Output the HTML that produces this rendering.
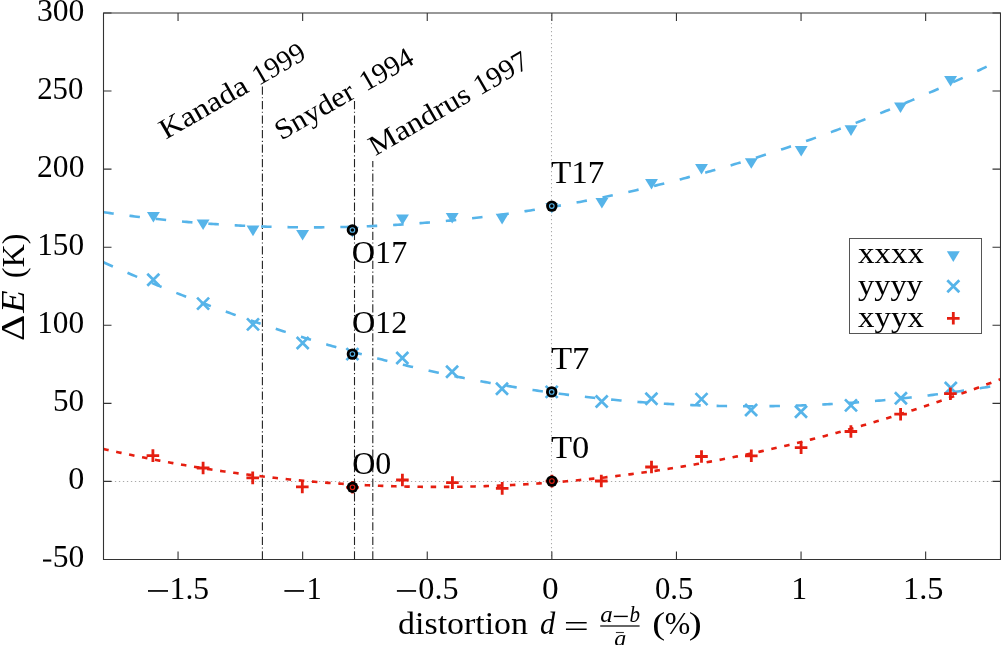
<!DOCTYPE html>
<html><head><meta charset="utf-8"><style>html,body{margin:0;padding:0;background:#fff;overflow:hidden}svg{display:block;will-change:transform}text{font-family:"Liberation Serif",serif;fill:#000}</style></head>
<body><svg width="1001" height="645" viewBox="0 0 1001 645"><rect x="0" y="0" width="1001" height="645" fill="#fff"/>
<line x1="103.5" y1="481.4" x2="1000.5" y2="481.4" stroke="#aaa" stroke-width="1.05" stroke-dasharray="1.3 2.7" stroke-dashoffset="0.6"/>
<line x1="551.5" y1="13.0" x2="551.5" y2="559.5" stroke="#aaa" stroke-width="1.05" stroke-dasharray="1.3 2.7" stroke-dashoffset="2"/>
<path d="M103.5 13.0 H1000.5 V559.5 H103.5 Z" fill="none" stroke="#333" stroke-width="1.1"/>
<path d="M103.5 559.47h8M1000.5 559.47h-8M103.5 481.40h8M1000.5 481.40h-8M103.5 403.33h8M1000.5 403.33h-8M103.5 325.26h8M1000.5 325.26h-8M103.5 247.19h8M1000.5 247.19h-8M103.5 169.12h8M1000.5 169.12h-8M103.5 91.05h8M1000.5 91.05h-8M103.5 12.98h8M1000.5 12.98h-8M178.05 559.5v-8M178.05 13.0v8M302.65 559.5v-8M302.65 13.0v8M427.25 559.5v-8M427.25 13.0v8M551.85 559.5v-8M551.85 13.0v8M676.45 559.5v-8M676.45 13.0v8M801.05 559.5v-8M801.05 13.0v8M925.65 559.5v-8M925.65 13.0v8" stroke="#333" stroke-width="1.1" fill="none"/>
<text x="36.99" y="20.88" font-size="32" textLength="47.42" lengthAdjust="spacingAndGlyphs" >300</text>
<text x="37.15" y="98.95" font-size="32" textLength="46.23" lengthAdjust="spacingAndGlyphs" >250</text>
<text x="37.11" y="177.02" font-size="32" textLength="47.29" lengthAdjust="spacingAndGlyphs" >200</text>
<text x="37.15" y="255.09" font-size="32" textLength="46.94" lengthAdjust="spacingAndGlyphs" >150</text>
<text x="37.15" y="333.16" font-size="32" textLength="46.94" lengthAdjust="spacingAndGlyphs" >100</text>
<text x="52.99" y="411.23" font-size="32" textLength="31.09" lengthAdjust="spacingAndGlyphs" >50</text>
<text x="68.28" y="489.30" font-size="32" textLength="16.04" lengthAdjust="spacingAndGlyphs" >0</text>
<text x="52.77" y="567.37" font-size="32" textLength="31.53" lengthAdjust="spacingAndGlyphs" >50</text>
<rect x="43" y="559.5" width="8.3" height="2.1" fill="#000"/>
<text x="169.62" y="599.20" font-size="32" textLength="39.51" lengthAdjust="spacingAndGlyphs" >1.5</text>
<text x="306.40" y="599.20" font-size="32" textLength="15.34" lengthAdjust="spacingAndGlyphs" >1</text>
<text x="418.37" y="599.20" font-size="32" textLength="40.29" lengthAdjust="spacingAndGlyphs" >0.5</text>
<text x="541.93" y="599.20" font-size="32" textLength="16.63" lengthAdjust="spacingAndGlyphs" >0</text>
<text x="655.03" y="599.20" font-size="32" textLength="38.37" lengthAdjust="spacingAndGlyphs" >0.5</text>
<text x="791.20" y="599.20" font-size="32" textLength="15.91" lengthAdjust="spacingAndGlyphs" >1</text>
<text x="903.06" y="599.20" font-size="32" textLength="40.40" lengthAdjust="spacingAndGlyphs" >1.5</text>
<rect x="148" y="590.1" width="20.0" height="1.7" fill="#000"/>
<rect x="284.4" y="590.1" width="19.6" height="1.7" fill="#000"/>
<rect x="396.9" y="590.1" width="19.2" height="1.7" fill="#000"/>
<line x1="262.4" y1="559.5" x2="262.4" y2="86.2" stroke="#222" stroke-width="1.1" stroke-dasharray="8.3 2.6 1.2 2.425"/>
<line x1="354.5" y1="559.5" x2="354.5" y2="100.8" stroke="#222" stroke-width="1.1" stroke-dasharray="8.3 2.6 1.2 2.425"/>
<line x1="372.8" y1="559.5" x2="372.8" y2="161" stroke="#222" stroke-width="1.1" stroke-dasharray="8.3 2.6 1.2 2.425"/>
<text transform="translate(166.5,139.4) rotate(-30)" x="-0.92" y="0.00" font-size="28.5" textLength="97.56" lengthAdjust="spacingAndGlyphs" >Kanada</text>
<text transform="translate(166.5,139.4) rotate(-30)" x="106.62" y="0.00" font-size="28.5" textLength="56.54" lengthAdjust="spacingAndGlyphs" >1999</text>
<text transform="translate(283,139.75) rotate(-30)" x="-2.06" y="0.00" font-size="28.5" textLength="87.33" lengthAdjust="spacingAndGlyphs" >Snyder</text>
<text transform="translate(283,139.75) rotate(-30)" x="95.88" y="0.00" font-size="28.5" textLength="57.37" lengthAdjust="spacingAndGlyphs" >1994</text>
<text transform="translate(376.1,155.7) rotate(-30)" x="-0.91" y="0.00" font-size="28.5" textLength="112.56" lengthAdjust="spacingAndGlyphs" >Mandrus</text>
<text transform="translate(376.1,155.7) rotate(-30)" x="120.03" y="0.00" font-size="28.5" textLength="58.41" lengthAdjust="spacingAndGlyphs" >1997</text>
<clipPath id="cp"><rect x="104" y="13.5" width="896" height="545.5"/></clipPath>
<g clip-path="url(#cp)">
<path d="M103.29 212.16 L105.54 212.48 L107.79 212.81 L110.04 213.13 L112.28 213.44 L114.53 213.76 L116.78 214.07 L119.03 214.37 L121.28 214.68 L123.53 214.97 L125.77 215.27 L128.02 215.56 L130.27 215.85 L132.52 216.13 L134.77 216.42 L137.02 216.69 L139.26 216.97 L141.51 217.24 L143.76 217.50 L146.01 217.77 L148.26 218.03 L150.51 218.28 L152.76 218.54 L155.00 218.78 L157.25 219.03 L159.50 219.27 L161.75 219.51 L164.00 219.74 L166.25 219.98 L168.49 220.20 L170.74 220.43 L172.99 220.65 L175.24 220.86 L177.49 221.08 L179.74 221.29 L181.98 221.49 L184.23 221.70 L186.48 221.90 L188.73 222.09 L190.98 222.28 L193.23 222.47 L195.48 222.66 L197.72 222.84 L199.97 223.02 L202.22 223.19 L204.47 223.36 L206.72 223.53 L208.97 223.69 L211.21 223.85 L213.46 224.01 L215.71 224.16 L217.96 224.31 L220.21 224.46 L222.46 224.60 L224.70 224.74 L226.95 224.87 L229.20 225.00 L231.45 225.13 L233.70 225.26 L235.95 225.38 L238.20 225.49 L240.44 225.61 L242.69 225.72 L244.94 225.82 L247.19 225.93 L249.44 226.03 L251.69 226.12 L253.93 226.21 L256.18 226.30 L258.43 226.39 L260.68 226.47 L262.93 226.55 L265.18 226.62 L267.42 226.69 L269.67 226.76 L271.92 226.82 L274.17 226.88 L276.42 226.94 L278.67 226.99 L280.92 227.04 L283.16 227.09 L285.41 227.13 L287.66 227.17 L289.91 227.21 L292.16 227.24 L294.41 227.27 L296.65 227.29 L298.90 227.31 L301.15 227.33 L303.40 227.34 L305.65 227.35 L307.90 227.36 L310.14 227.36 L312.39 227.36 L314.64 227.36 L316.89 227.35 L319.14 227.34 L321.39 227.33 L323.64 227.31 L325.88 227.29 L328.13 227.26 L330.38 227.23 L332.63 227.20 L334.88 227.17 L337.13 227.13 L339.37 227.08 L341.62 227.04 L343.87 226.99 L346.12 226.93 L348.37 226.88 L350.62 226.82 L352.86 226.75 L355.11 226.68 L357.36 226.61 L359.61 226.54 L361.86 226.46 L364.11 226.38 L366.36 226.29 L368.60 226.20 L370.85 226.11 L373.10 226.01 L375.35 225.91 L377.60 225.81 L379.85 225.70 L382.09 225.59 L384.34 225.48 L386.59 225.36 L388.84 225.24 L391.09 225.11 L393.34 224.98 L395.58 224.85 L397.83 224.72 L400.08 224.58 L402.33 224.43 L404.58 224.29 L406.83 224.14 L409.08 223.98 L411.32 223.83 L413.57 223.67 L415.82 223.50 L418.07 223.34 L420.32 223.16 L422.57 222.99 L424.81 222.81 L427.06 222.63 L429.31 222.44 L431.56 222.26 L433.81 222.06 L436.06 221.87 L438.30 221.67 L440.55 221.46 L442.80 221.26 L445.05 221.05 L447.30 220.83 L449.55 220.62 L451.80 220.39 L454.04 220.17 L456.29 219.94 L458.54 219.71 L460.79 219.47 L463.04 219.24 L465.29 218.99 L467.53 218.75 L469.78 218.50 L472.03 218.24 L474.28 217.99 L476.53 217.73 L478.78 217.46 L481.02 217.20 L483.27 216.93 L485.52 216.65 L487.77 216.37 L490.02 216.09 L492.27 215.81 L494.52 215.52 L496.76 215.23 L499.01 214.93 L501.26 214.63 L503.51 214.33 L505.76 214.02 L508.01 213.71 L510.25 213.40 L512.50 213.08 L514.75 212.76 L517.00 212.44 L519.25 212.11 L521.50 211.78 L523.74 211.44 L525.99 211.10 L528.24 210.76 L530.49 210.42 L532.74 210.07 L534.99 209.71 L537.24 209.36 L539.48 209.00 L541.73 208.63 L543.98 208.27 L546.23 207.90 L548.48 207.52 L550.73 207.14 L552.97 206.76 L555.22 206.38 L557.47 205.99 L559.72 205.60 L561.97 205.20 L564.22 204.80 L566.46 204.40 L568.71 203.99 L570.96 203.59 L573.21 203.17 L575.46 202.75 L577.71 202.33 L579.96 201.91 L582.20 201.48 L584.45 201.05 L586.70 200.62 L588.95 200.18 L591.20 199.74 L593.45 199.29 L595.69 198.84 L597.94 198.39 L600.19 197.93 L602.44 197.48 L604.69 197.01 L606.94 196.55 L609.18 196.07 L611.43 195.60 L613.68 195.12 L615.93 194.64 L618.18 194.16 L620.43 193.67 L622.68 193.18 L624.92 192.68 L627.17 192.18 L629.42 191.68 L631.67 191.18 L633.92 190.67 L636.17 190.15 L638.41 189.64 L640.66 189.12 L642.91 188.59 L645.16 188.07 L647.41 187.54 L649.66 187.00 L651.90 186.46 L654.15 185.92 L656.40 185.38 L658.65 184.83 L660.90 184.28 L663.15 183.72 L665.40 183.16 L667.64 182.60 L669.89 182.03 L672.14 181.46 L674.39 180.89 L676.64 180.31 L678.89 179.73 L681.13 179.15 L683.38 178.56 L685.63 177.97 L687.88 177.37 L690.13 176.77 L692.38 176.17 L694.62 175.57 L696.87 174.96 L699.12 174.34 L701.37 173.73 L703.62 173.11 L705.87 172.49 L708.12 171.86 L710.36 171.23 L712.61 170.59 L714.86 169.96 L717.11 169.32 L719.36 168.67 L721.61 168.02 L723.85 167.37 L726.10 166.72 L728.35 166.06 L730.60 165.39 L732.85 164.73 L735.10 164.06 L737.34 163.38 L739.59 162.71 L741.84 162.03 L744.09 161.34 L746.34 160.66 L748.59 159.97 L750.84 159.27 L753.08 158.57 L755.33 157.87 L757.58 157.17 L759.83 156.46 L762.08 155.74 L764.33 155.03 L766.57 154.31 L768.82 153.59 L771.07 152.86 L773.32 152.13 L775.57 151.40 L777.82 150.66 L780.06 149.92 L782.31 149.17 L784.56 148.42 L786.81 147.67 L789.06 146.92 L791.31 146.16 L793.56 145.40 L795.80 144.63 L798.05 143.86 L800.30 143.09 L802.55 142.31 L804.80 141.53 L807.05 140.75 L809.29 139.96 L811.54 139.17 L813.79 138.38 L816.04 137.58 L818.29 136.78 L820.54 135.97 L822.78 135.16 L825.03 134.35 L827.28 133.54 L829.53 132.72 L831.78 131.89 L834.03 131.07 L836.28 130.24 L838.52 129.40 L840.77 128.57 L843.02 127.73 L845.27 126.88 L847.52 126.04 L849.77 125.18 L852.01 124.33 L854.26 123.47 L856.51 122.61 L858.76 121.74 L861.01 120.87 L863.26 120.00 L865.50 119.13 L867.75 118.25 L870.00 117.36 L872.25 116.48 L874.50 115.59 L876.75 114.69 L879.00 113.79 L881.24 112.89 L883.49 111.99 L885.74 111.08 L887.99 110.17 L890.24 109.25 L892.49 108.33 L894.73 107.41 L896.98 106.49 L899.23 105.56 L901.48 104.62 L903.73 103.69 L905.98 102.75 L908.22 101.80 L910.47 100.86 L912.72 99.90 L914.97 98.95 L917.22 97.99 L919.47 97.03 L921.72 96.06 L923.96 95.10 L926.21 94.12 L928.46 93.15 L930.71 92.17 L932.96 91.19 L935.21 90.20 L937.45 89.21 L939.70 88.22 L941.95 87.22 L944.20 86.22 L946.45 85.21 L948.70 84.20 L950.94 83.19 L953.19 82.18 L955.44 81.16 L957.69 80.14 L959.94 79.11 L962.19 78.08 L964.44 77.05 L966.68 76.01 L968.93 74.97 L971.18 73.93 L973.43 72.88 L975.68 71.83 L977.93 70.78 L980.17 69.72 L982.42 68.66 L984.67 67.59 L986.92 66.53 L989.17 65.45 L991.42 64.38 L993.66 63.30 L995.91 62.22 L998.16 61.13 L1000.41 60.04" fill="none" stroke="#56B4E9" stroke-width="2.6" stroke-dasharray="10.5 15.92"/>
<path d="M103.29 262.23 L105.54 263.23 L107.79 264.23 L110.04 265.22 L112.28 266.21 L114.53 267.19 L116.78 268.17 L119.03 269.15 L121.28 270.13 L123.53 271.10 L125.77 272.06 L128.02 273.03 L130.27 273.99 L132.52 274.95 L134.77 275.90 L137.02 276.85 L139.26 277.80 L141.51 278.74 L143.76 279.68 L146.01 280.62 L148.26 281.55 L150.51 282.48 L152.76 283.40 L155.00 284.32 L157.25 285.24 L159.50 286.16 L161.75 287.07 L164.00 287.98 L166.25 288.88 L168.49 289.79 L170.74 290.68 L172.99 291.58 L175.24 292.47 L177.49 293.36 L179.74 294.24 L181.98 295.12 L184.23 296.00 L186.48 296.87 L188.73 297.74 L190.98 298.61 L193.23 299.47 L195.48 300.33 L197.72 301.19 L199.97 302.04 L202.22 302.89 L204.47 303.74 L206.72 304.58 L208.97 305.42 L211.21 306.25 L213.46 307.08 L215.71 307.91 L217.96 308.74 L220.21 309.56 L222.46 310.38 L224.70 311.19 L226.95 312.00 L229.20 312.81 L231.45 313.61 L233.70 314.41 L235.95 315.21 L238.20 316.01 L240.44 316.80 L242.69 317.58 L244.94 318.37 L247.19 319.15 L249.44 319.92 L251.69 320.69 L253.93 321.46 L256.18 322.23 L258.43 322.99 L260.68 323.75 L262.93 324.51 L265.18 325.26 L267.42 326.01 L269.67 326.75 L271.92 327.49 L274.17 328.23 L276.42 328.97 L278.67 329.70 L280.92 330.43 L283.16 331.15 L285.41 331.87 L287.66 332.59 L289.91 333.30 L292.16 334.01 L294.41 334.72 L296.65 335.42 L298.90 336.12 L301.15 336.82 L303.40 337.51 L305.65 338.20 L307.90 338.89 L310.14 339.57 L312.39 340.25 L314.64 340.92 L316.89 341.60 L319.14 342.27 L321.39 342.93 L323.64 343.59 L325.88 344.25 L328.13 344.91 L330.38 345.56 L332.63 346.20 L334.88 346.85 L337.13 347.49 L339.37 348.13 L341.62 348.76 L343.87 349.39 L346.12 350.02 L348.37 350.64 L350.62 351.26 L352.86 351.88 L355.11 352.49 L357.36 353.10 L359.61 353.71 L361.86 354.31 L364.11 354.91 L366.36 355.50 L368.60 356.10 L370.85 356.68 L373.10 357.27 L375.35 357.85 L377.60 358.43 L379.85 359.01 L382.09 359.58 L384.34 360.14 L386.59 360.71 L388.84 361.27 L391.09 361.83 L393.34 362.38 L395.58 362.93 L397.83 363.48 L400.08 364.02 L402.33 364.56 L404.58 365.10 L406.83 365.63 L409.08 366.16 L411.32 366.69 L413.57 367.21 L415.82 367.73 L418.07 368.25 L420.32 368.76 L422.57 369.27 L424.81 369.77 L427.06 370.27 L429.31 370.77 L431.56 371.27 L433.81 371.76 L436.06 372.25 L438.30 372.73 L440.55 373.21 L442.80 373.69 L445.05 374.16 L447.30 374.63 L449.55 375.10 L451.80 375.57 L454.04 376.03 L456.29 376.48 L458.54 376.94 L460.79 377.39 L463.04 377.83 L465.29 378.27 L467.53 378.71 L469.78 379.15 L472.03 379.58 L474.28 380.01 L476.53 380.44 L478.78 380.86 L481.02 381.28 L483.27 381.69 L485.52 382.10 L487.77 382.51 L490.02 382.92 L492.27 383.32 L494.52 383.71 L496.76 384.11 L499.01 384.50 L501.26 384.89 L503.51 385.27 L505.76 385.65 L508.01 386.03 L510.25 386.40 L512.50 386.77 L514.75 387.14 L517.00 387.50 L519.25 387.86 L521.50 388.22 L523.74 388.57 L525.99 388.92 L528.24 389.26 L530.49 389.60 L532.74 389.94 L534.99 390.28 L537.24 390.61 L539.48 390.94 L541.73 391.26 L543.98 391.58 L546.23 391.90 L548.48 392.22 L550.73 392.53 L552.97 392.83 L555.22 393.14 L557.47 393.44 L559.72 393.74 L561.97 394.03 L564.22 394.32 L566.46 394.61 L568.71 394.89 L570.96 395.17 L573.21 395.44 L575.46 395.72 L577.71 395.99 L579.96 396.25 L582.20 396.51 L584.45 396.77 L586.70 397.03 L588.95 397.28 L591.20 397.53 L593.45 397.77 L595.69 398.01 L597.94 398.25 L600.19 398.49 L602.44 398.72 L604.69 398.94 L606.94 399.17 L609.18 399.39 L611.43 399.61 L613.68 399.82 L615.93 400.03 L618.18 400.24 L620.43 400.44 L622.68 400.64 L624.92 400.83 L627.17 401.03 L629.42 401.22 L631.67 401.40 L633.92 401.58 L636.17 401.76 L638.41 401.94 L640.66 402.11 L642.91 402.28 L645.16 402.44 L647.41 402.61 L649.66 402.76 L651.90 402.92 L654.15 403.07 L656.40 403.22 L658.65 403.36 L660.90 403.50 L663.15 403.64 L665.40 403.77 L667.64 403.90 L669.89 404.03 L672.14 404.15 L674.39 404.27 L676.64 404.39 L678.89 404.50 L681.13 404.61 L683.38 404.72 L685.63 404.82 L687.88 404.92 L690.13 405.01 L692.38 405.10 L694.62 405.19 L696.87 405.28 L699.12 405.36 L701.37 405.44 L703.62 405.51 L705.87 405.58 L708.12 405.65 L710.36 405.71 L712.61 405.77 L714.86 405.83 L717.11 405.89 L719.36 405.94 L721.61 405.98 L723.85 406.03 L726.10 406.07 L728.35 406.10 L730.60 406.13 L732.85 406.16 L735.10 406.19 L737.34 406.21 L739.59 406.23 L741.84 406.25 L744.09 406.26 L746.34 406.27 L748.59 406.27 L750.84 406.27 L753.08 406.27 L755.33 406.27 L757.58 406.26 L759.83 406.25 L762.08 406.23 L764.33 406.21 L766.57 406.19 L768.82 406.16 L771.07 406.13 L773.32 406.10 L775.57 406.06 L777.82 406.02 L780.06 405.98 L782.31 405.93 L784.56 405.88 L786.81 405.83 L789.06 405.77 L791.31 405.71 L793.56 405.64 L795.80 405.58 L798.05 405.51 L800.30 405.43 L802.55 405.35 L804.80 405.27 L807.05 405.19 L809.29 405.10 L811.54 405.00 L813.79 404.91 L816.04 404.81 L818.29 404.71 L820.54 404.60 L822.78 404.49 L825.03 404.38 L827.28 404.26 L829.53 404.14 L831.78 404.02 L834.03 403.89 L836.28 403.76 L838.52 403.63 L840.77 403.49 L843.02 403.35 L845.27 403.20 L847.52 403.06 L849.77 402.91 L852.01 402.75 L854.26 402.59 L856.51 402.43 L858.76 402.27 L861.01 402.10 L863.26 401.93 L865.50 401.75 L867.75 401.57 L870.00 401.39 L872.25 401.20 L874.50 401.01 L876.75 400.82 L879.00 400.62 L881.24 400.42 L883.49 400.22 L885.74 400.01 L887.99 399.80 L890.24 399.59 L892.49 399.37 L894.73 399.15 L896.98 398.93 L899.23 398.70 L901.48 398.47 L903.73 398.23 L905.98 398.00 L908.22 397.75 L910.47 397.51 L912.72 397.26 L914.97 397.01 L917.22 396.75 L919.47 396.49 L921.72 396.23 L923.96 395.97 L926.21 395.70 L928.46 395.42 L930.71 395.15 L932.96 394.87 L935.21 394.58 L937.45 394.30 L939.70 394.01 L941.95 393.71 L944.20 393.42 L946.45 393.12 L948.70 392.81 L950.94 392.50 L953.19 392.19 L955.44 391.88 L957.69 391.56 L959.94 391.24 L962.19 390.91 L964.44 390.58 L966.68 390.25 L968.93 389.92 L971.18 389.58 L973.43 389.24 L975.68 388.89 L977.93 388.54 L980.17 388.19 L982.42 387.83 L984.67 387.47 L986.92 387.11 L989.17 386.74 L991.42 386.37 L993.66 386.00 L995.91 385.62 L998.16 385.24 L1000.41 384.86" fill="none" stroke="#56B4E9" stroke-width="2.6" stroke-dasharray="10.5 15.92"/>
<path d="M103.29 448.91 L105.54 449.42 L107.79 449.93 L110.04 450.43 L112.28 450.93 L114.53 451.42 L116.78 451.92 L119.03 452.41 L121.28 452.89 L123.53 453.37 L125.77 453.85 L128.02 454.33 L130.27 454.80 L132.52 455.27 L134.77 455.73 L137.02 456.19 L139.26 456.65 L141.51 457.10 L143.76 457.55 L146.01 458.00 L148.26 458.45 L150.51 458.89 L152.76 459.32 L155.00 459.76 L157.25 460.19 L159.50 460.61 L161.75 461.04 L164.00 461.46 L166.25 461.87 L168.49 462.29 L170.74 462.70 L172.99 463.10 L175.24 463.51 L177.49 463.91 L179.74 464.30 L181.98 464.69 L184.23 465.08 L186.48 465.47 L188.73 465.85 L190.98 466.23 L193.23 466.61 L195.48 466.98 L197.72 467.35 L199.97 467.71 L202.22 468.07 L204.47 468.43 L206.72 468.79 L208.97 469.14 L211.21 469.48 L213.46 469.83 L215.71 470.17 L217.96 470.51 L220.21 470.84 L222.46 471.17 L224.70 471.50 L226.95 471.82 L229.20 472.14 L231.45 472.46 L233.70 472.77 L235.95 473.08 L238.20 473.39 L240.44 473.69 L242.69 473.99 L244.94 474.29 L247.19 474.58 L249.44 474.87 L251.69 475.16 L253.93 475.44 L256.18 475.72 L258.43 476.00 L260.68 476.27 L262.93 476.54 L265.18 476.80 L267.42 477.06 L269.67 477.32 L271.92 477.58 L274.17 477.83 L276.42 478.08 L278.67 478.32 L280.92 478.56 L283.16 478.80 L285.41 479.03 L287.66 479.27 L289.91 479.49 L292.16 479.72 L294.41 479.94 L296.65 480.16 L298.90 480.37 L301.15 480.58 L303.40 480.79 L305.65 480.99 L307.90 481.19 L310.14 481.39 L312.39 481.58 L314.64 481.77 L316.89 481.96 L319.14 482.14 L321.39 482.32 L323.64 482.49 L325.88 482.67 L328.13 482.84 L330.38 483.00 L332.63 483.16 L334.88 483.32 L337.13 483.48 L339.37 483.63 L341.62 483.78 L343.87 483.92 L346.12 484.06 L348.37 484.20 L350.62 484.34 L352.86 484.47 L355.11 484.60 L357.36 484.72 L359.61 484.84 L361.86 484.96 L364.11 485.07 L366.36 485.18 L368.60 485.29 L370.85 485.40 L373.10 485.50 L375.35 485.59 L377.60 485.69 L379.85 485.78 L382.09 485.86 L384.34 485.95 L386.59 486.03 L388.84 486.10 L391.09 486.17 L393.34 486.24 L395.58 486.31 L397.83 486.37 L400.08 486.43 L402.33 486.49 L404.58 486.54 L406.83 486.59 L409.08 486.63 L411.32 486.68 L413.57 486.71 L415.82 486.75 L418.07 486.78 L420.32 486.81 L422.57 486.83 L424.81 486.85 L427.06 486.87 L429.31 486.89 L431.56 486.90 L433.81 486.91 L436.06 486.91 L438.30 486.91 L440.55 486.91 L442.80 486.90 L445.05 486.89 L447.30 486.88 L449.55 486.86 L451.80 486.84 L454.04 486.82 L456.29 486.79 L458.54 486.76 L460.79 486.73 L463.04 486.69 L465.29 486.65 L467.53 486.61 L469.78 486.56 L472.03 486.51 L474.28 486.45 L476.53 486.40 L478.78 486.33 L481.02 486.27 L483.27 486.20 L485.52 486.13 L487.77 486.06 L490.02 485.98 L492.27 485.90 L494.52 485.81 L496.76 485.72 L499.01 485.63 L501.26 485.53 L503.51 485.43 L505.76 485.33 L508.01 485.23 L510.25 485.12 L512.50 485.00 L514.75 484.89 L517.00 484.77 L519.25 484.65 L521.50 484.52 L523.74 484.39 L525.99 484.26 L528.24 484.12 L530.49 483.98 L532.74 483.83 L534.99 483.69 L537.24 483.54 L539.48 483.38 L541.73 483.23 L543.98 483.06 L546.23 482.90 L548.48 482.73 L550.73 482.56 L552.97 482.39 L555.22 482.21 L557.47 482.03 L559.72 481.84 L561.97 481.65 L564.22 481.46 L566.46 481.27 L568.71 481.07 L570.96 480.87 L573.21 480.66 L575.46 480.45 L577.71 480.24 L579.96 480.02 L582.20 479.80 L584.45 479.58 L586.70 479.35 L588.95 479.12 L591.20 478.89 L593.45 478.66 L595.69 478.42 L597.94 478.17 L600.19 477.93 L602.44 477.67 L604.69 477.42 L606.94 477.16 L609.18 476.90 L611.43 476.64 L613.68 476.37 L615.93 476.10 L618.18 475.83 L620.43 475.55 L622.68 475.27 L624.92 474.98 L627.17 474.70 L629.42 474.40 L631.67 474.11 L633.92 473.81 L636.17 473.51 L638.41 473.20 L640.66 472.89 L642.91 472.58 L645.16 472.27 L647.41 471.95 L649.66 471.63 L651.90 471.30 L654.15 470.97 L656.40 470.64 L658.65 470.30 L660.90 469.96 L663.15 469.62 L665.40 469.27 L667.64 468.92 L669.89 468.57 L672.14 468.21 L674.39 467.85 L676.64 467.49 L678.89 467.12 L681.13 466.75 L683.38 466.38 L685.63 466.00 L687.88 465.62 L690.13 465.23 L692.38 464.85 L694.62 464.46 L696.87 464.06 L699.12 463.66 L701.37 463.26 L703.62 462.86 L705.87 462.45 L708.12 462.04 L710.36 461.62 L712.61 461.20 L714.86 460.78 L717.11 460.35 L719.36 459.93 L721.61 459.49 L723.85 459.06 L726.10 458.62 L728.35 458.17 L730.60 457.73 L732.85 457.28 L735.10 456.83 L737.34 456.37 L739.59 455.91 L741.84 455.45 L744.09 454.98 L746.34 454.51 L748.59 454.04 L750.84 453.56 L753.08 453.08 L755.33 452.59 L757.58 452.11 L759.83 451.62 L762.08 451.12 L764.33 450.62 L766.57 450.12 L768.82 449.62 L771.07 449.11 L773.32 448.60 L775.57 448.08 L777.82 447.57 L780.06 447.04 L782.31 446.52 L784.56 445.99 L786.81 445.46 L789.06 444.92 L791.31 444.38 L793.56 443.84 L795.80 443.29 L798.05 442.75 L800.30 442.19 L802.55 441.64 L804.80 441.08 L807.05 440.51 L809.29 439.95 L811.54 439.38 L813.79 438.80 L816.04 438.23 L818.29 437.65 L820.54 437.06 L822.78 436.48 L825.03 435.89 L827.28 435.29 L829.53 434.69 L831.78 434.09 L834.03 433.49 L836.28 432.88 L838.52 432.27 L840.77 431.66 L843.02 431.04 L845.27 430.42 L847.52 429.79 L849.77 429.16 L852.01 428.53 L854.26 427.90 L856.51 427.26 L858.76 426.61 L861.01 425.97 L863.26 425.32 L865.50 424.67 L867.75 424.01 L870.00 423.35 L872.25 422.69 L874.50 422.02 L876.75 421.35 L879.00 420.68 L881.24 420.00 L883.49 419.33 L885.74 418.64 L887.99 417.95 L890.24 417.26 L892.49 416.57 L894.73 415.87 L896.98 415.17 L899.23 414.47 L901.48 413.76 L903.73 413.05 L905.98 412.34 L908.22 411.62 L910.47 410.90 L912.72 410.17 L914.97 409.45 L917.22 408.71 L919.47 407.98 L921.72 407.24 L923.96 406.50 L926.21 405.75 L928.46 405.00 L930.71 404.25 L932.96 403.50 L935.21 402.74 L937.45 401.98 L939.70 401.21 L941.95 400.44 L944.20 399.67 L946.45 398.89 L948.70 398.11 L950.94 397.33 L953.19 396.54 L955.44 395.75 L957.69 394.96 L959.94 394.16 L962.19 393.36 L964.44 392.56 L966.68 391.75 L968.93 390.94 L971.18 390.13 L973.43 389.31 L975.68 388.49 L977.93 387.66 L980.17 386.84 L982.42 386.01 L984.67 385.17 L986.92 384.33 L989.17 383.49 L991.42 382.65 L993.66 381.80 L995.91 380.95 L998.16 380.09 L1000.41 379.23" fill="none" stroke="#E51E10" stroke-width="2.6" stroke-dasharray="5.5 7.71"/>
</g>
<path d="M146.95 212.00H159.85L153.40 222.60Z" fill="#56B4E9"/>
<path d="M196.65 219.40H209.55L203.10 230.00Z" fill="#56B4E9"/>
<path d="M246.55 225.60H259.45L253.00 236.20Z" fill="#56B4E9"/>
<path d="M296.15 230.00H309.05L302.60 240.60Z" fill="#56B4E9"/>
<path d="M345.95 226.85H358.85L352.40 237.45Z" fill="#56B4E9"/>
<path d="M396.05 214.40H408.95L402.50 225.00Z" fill="#56B4E9"/>
<path d="M445.75 212.90H458.65L452.20 223.50Z" fill="#56B4E9"/>
<path d="M495.65 213.80H508.55L502.10 224.40Z" fill="#56B4E9"/>
<path d="M545.35 202.90H558.25L551.80 213.50Z" fill="#56B4E9"/>
<path d="M595.45 198.00H608.35L601.90 208.60Z" fill="#56B4E9"/>
<path d="M645.05 179.00H657.95L651.50 189.60Z" fill="#56B4E9"/>
<path d="M695.05 164.00H707.95L701.50 174.60Z" fill="#56B4E9"/>
<path d="M744.85 158.20H757.75L751.30 168.80Z" fill="#56B4E9"/>
<path d="M794.75 146.00H807.65L801.20 156.60Z" fill="#56B4E9"/>
<path d="M844.55 125.30H857.45L851.00 135.90Z" fill="#56B4E9"/>
<path d="M894.05 102.40H906.95L900.50 113.00Z" fill="#56B4E9"/>
<path d="M944.15 76.00H957.05L950.60 86.60Z" fill="#56B4E9"/>
<path d="M147.30 273.70L159.30 285.70M147.30 285.70L159.30 273.70" stroke="#56B4E9" stroke-width="2.7" fill="none"/>
<path d="M197.10 297.60L209.10 309.60M197.10 309.60L209.10 297.60" stroke="#56B4E9" stroke-width="2.7" fill="none"/>
<path d="M247.00 318.40L259.00 330.40M247.00 330.40L259.00 318.40" stroke="#56B4E9" stroke-width="2.7" fill="none"/>
<path d="M296.70 337.00L308.70 349.00M296.70 349.00L308.70 337.00" stroke="#56B4E9" stroke-width="2.7" fill="none"/>
<path d="M346.40 348.10L358.40 360.10M346.40 360.10L358.40 348.10" stroke="#56B4E9" stroke-width="2.7" fill="none"/>
<path d="M396.30 352.00L408.30 364.00M396.30 364.00L408.30 352.00" stroke="#56B4E9" stroke-width="2.7" fill="none"/>
<path d="M446.10 365.70L458.10 377.70M446.10 377.70L458.10 365.70" stroke="#56B4E9" stroke-width="2.7" fill="none"/>
<path d="M496.00 382.70L508.00 394.70M496.00 394.70L508.00 382.70" stroke="#56B4E9" stroke-width="2.7" fill="none"/>
<path d="M545.70 385.90L557.70 397.90M545.70 397.90L557.70 385.90" stroke="#56B4E9" stroke-width="2.7" fill="none"/>
<path d="M595.70 395.50L607.70 407.50M595.70 407.50L607.70 395.50" stroke="#56B4E9" stroke-width="2.7" fill="none"/>
<path d="M645.40 392.80L657.40 404.80M645.40 404.80L657.40 392.80" stroke="#56B4E9" stroke-width="2.7" fill="none"/>
<path d="M695.50 393.10L707.50 405.10M695.50 405.10L707.50 393.10" stroke="#56B4E9" stroke-width="2.7" fill="none"/>
<path d="M745.10 404.00L757.10 416.00M745.10 416.00L757.10 404.00" stroke="#56B4E9" stroke-width="2.7" fill="none"/>
<path d="M795.00 405.70L807.00 417.70M795.00 417.70L807.00 405.70" stroke="#56B4E9" stroke-width="2.7" fill="none"/>
<path d="M845.00 399.40L857.00 411.40M845.00 411.40L857.00 399.40" stroke="#56B4E9" stroke-width="2.7" fill="none"/>
<path d="M894.90 392.20L906.90 404.20M894.90 404.20L906.90 392.20" stroke="#56B4E9" stroke-width="2.7" fill="none"/>
<path d="M944.80 382.00L956.80 394.00M944.80 394.00L956.80 382.00" stroke="#56B4E9" stroke-width="2.7" fill="none"/>
<path d="M146.60 455.60H159.20M152.90 449.30V461.90" stroke="#E51E10" stroke-width="2.8" fill="none"/>
<path d="M196.80 468.00H209.40M203.10 461.70V474.30" stroke="#E51E10" stroke-width="2.8" fill="none"/>
<path d="M246.40 477.90H259.00M252.70 471.60V484.20" stroke="#E51E10" stroke-width="2.8" fill="none"/>
<path d="M296.00 486.90H308.60M302.30 480.60V493.20" stroke="#E51E10" stroke-width="2.8" fill="none"/>
<path d="M346.20 487.30H358.80M352.50 481.00V493.60" stroke="#E51E10" stroke-width="2.8" fill="none"/>
<path d="M396.10 480.00H408.70M402.40 473.70V486.30" stroke="#E51E10" stroke-width="2.8" fill="none"/>
<path d="M446.10 482.60H458.70M452.40 476.30V488.90" stroke="#E51E10" stroke-width="2.8" fill="none"/>
<path d="M495.90 488.40H508.50M502.20 482.10V494.70" stroke="#E51E10" stroke-width="2.8" fill="none"/>
<path d="M545.60 481.10H558.20M551.90 474.80V487.40" stroke="#E51E10" stroke-width="2.8" fill="none"/>
<path d="M595.00 481.00H607.60M601.30 474.70V487.30" stroke="#E51E10" stroke-width="2.8" fill="none"/>
<path d="M645.20 467.00H657.80M651.50 460.70V473.30" stroke="#E51E10" stroke-width="2.8" fill="none"/>
<path d="M695.20 456.50H707.80M701.50 450.20V462.80" stroke="#E51E10" stroke-width="2.8" fill="none"/>
<path d="M745.00 455.80H757.60M751.30 449.50V462.10" stroke="#E51E10" stroke-width="2.8" fill="none"/>
<path d="M794.80 447.70H807.40M801.10 441.40V454.00" stroke="#E51E10" stroke-width="2.8" fill="none"/>
<path d="M844.60 431.50H857.20M850.90 425.20V437.80" stroke="#E51E10" stroke-width="2.8" fill="none"/>
<path d="M894.30 414.20H906.90M900.60 407.90V420.50" stroke="#E51E10" stroke-width="2.8" fill="none"/>
<path d="M944.10 393.70H956.70M950.40 387.40V400.00" stroke="#E51E10" stroke-width="2.8" fill="none"/>
<circle cx="551.8" cy="206.1" r="5.7" fill="#000"/><circle cx="551.8" cy="206.1" r="2.3" fill="none" stroke="#56B4E9" stroke-width="1.1"/>
<circle cx="352.4" cy="230" r="5.7" fill="#000"/><circle cx="352.4" cy="230" r="2.3" fill="none" stroke="#56B4E9" stroke-width="1.1"/>
<circle cx="352.4" cy="354.1" r="5.7" fill="#000"/><circle cx="352.4" cy="354.1" r="2.3" fill="none" stroke="#56B4E9" stroke-width="1.1"/>
<circle cx="551.7" cy="391.9" r="5.7" fill="#000"/><circle cx="551.7" cy="391.9" r="2.3" fill="none" stroke="#56B4E9" stroke-width="1.1"/>
<circle cx="352.5" cy="487.3" r="5.7" fill="#000"/><circle cx="352.5" cy="487.3" r="2.3" fill="none" stroke="#E51E10" stroke-width="1.1"/>
<circle cx="551.9" cy="481.1" r="5.7" fill="#000"/><circle cx="551.9" cy="481.1" r="2.3" fill="none" stroke="#E51E10" stroke-width="1.1"/>
<text x="551.00" y="183.40" font-size="32" textLength="53.35" lengthAdjust="spacingAndGlyphs" >T17</text>
<text x="351.88" y="263.00" font-size="32" textLength="55.34" lengthAdjust="spacingAndGlyphs" >O17</text>
<text x="351.88" y="333.00" font-size="32" textLength="55.39" lengthAdjust="spacingAndGlyphs" >O12</text>
<text x="550.98" y="369.20" font-size="32" textLength="38.42" lengthAdjust="spacingAndGlyphs" >T7</text>
<text x="352.19" y="474.00" font-size="32" textLength="39.03" lengthAdjust="spacingAndGlyphs" >O0</text>
<text x="550.98" y="458.20" font-size="32" textLength="38.34" lengthAdjust="spacingAndGlyphs" >T0</text>
<rect x="849.5" y="238.5" width="132" height="95" fill="#fff" stroke="#555" stroke-width="1"/>
<text x="858.11" y="262.50" font-size="29.5" textLength="65.79" lengthAdjust="spacingAndGlyphs" >xxxx</text>
<text x="858.00" y="294.50" font-size="29.5" textLength="64.82" lengthAdjust="spacingAndGlyphs" >yyyy</text>
<text x="858.11" y="326.50" font-size="29.5" textLength="65.79" lengthAdjust="spacingAndGlyphs" >xyyx</text>
<path d="M946.85 251.30H959.75L953.30 261.90Z" fill="#56B4E9"/>
<path d="M947.30 280.30L959.30 292.30M947.30 292.30L959.30 280.30" stroke="#56B4E9" stroke-width="2.7" fill="none"/>
<path d="M947.00 318.30H959.60M953.30 312.00V324.60" stroke="#E51E10" stroke-width="2.8" fill="none"/>
<text transform="rotate(-90)" x="-340.95" y="24.20" font-size="33" textLength="26.18" lengthAdjust="spacingAndGlyphs" >Δ</text>
<text transform="rotate(-90)" x="-312.77" y="24.20" font-size="33" textLength="22.36" lengthAdjust="spacingAndGlyphs" ><tspan font-style="italic">E</tspan></text>
<text transform="rotate(-90)" x="-278.31" y="24.20" font-size="32" textLength="44.63" lengthAdjust="spacingAndGlyphs" >(K)</text>
<text x="398.08" y="633.80" font-size="31" textLength="129.94" lengthAdjust="spacingAndGlyphs" >distortion</text>
<text x="539.88" y="633.80" font-size="31" textLength="15.25" lengthAdjust="spacingAndGlyphs" ><tspan font-style="italic">d</tspan></text>
<text x="563.78" y="637.30" font-size="32" textLength="25.09" lengthAdjust="spacingAndGlyphs" >=</text>
<text x="600.16" y="622.00" font-size="23" textLength="12.48" lengthAdjust="spacingAndGlyphs" ><tspan font-style="italic">a</tspan></text>
<rect x="613.8" y="615.7" width="14" height="1.4" fill="#000"/>
<text x="629.42" y="622.00" font-size="23" textLength="10.52" lengthAdjust="spacingAndGlyphs" ><tspan font-style="italic">b</tspan></text>
<line x1="600.2" y1="626" x2="639.6" y2="626" stroke="#333" stroke-width="1.4"/>
<text x="614.18" y="645.80" font-size="23" textLength="12.02" lengthAdjust="spacingAndGlyphs" ><tspan font-style="italic">a</tspan></text>
<line x1="615.9" y1="632.5" x2="623.9" y2="632.5" stroke="#333" stroke-width="1.1"/>
<text x="652.29" y="633.60" font-size="32" textLength="12.97" lengthAdjust="spacingAndGlyphs" >(</text>
<text x="664.75" y="633.60" font-size="32" textLength="25.49" lengthAdjust="spacingAndGlyphs" >%</text>
<text x="688.75" y="633.60" font-size="32" textLength="12.97" lengthAdjust="spacingAndGlyphs" >)</text></svg></body></html>
